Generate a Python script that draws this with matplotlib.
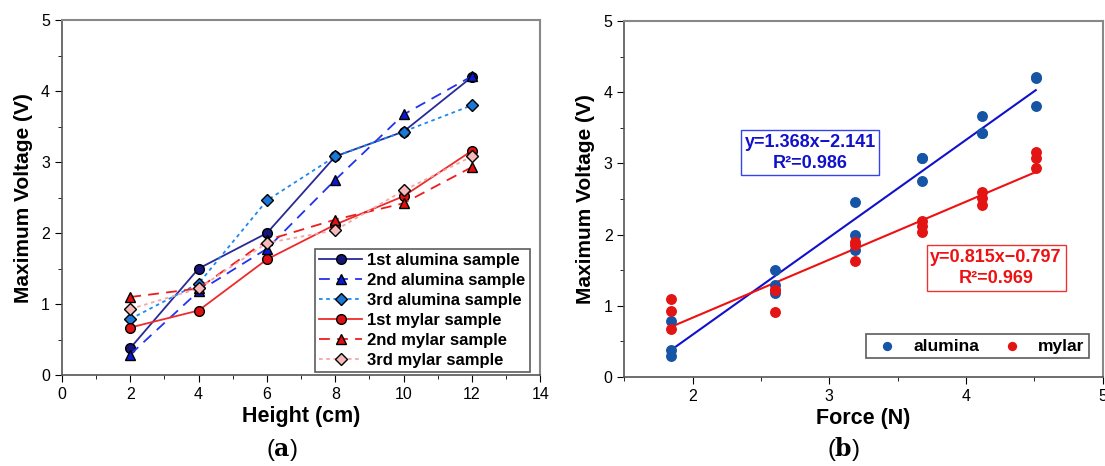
import matplotlib
matplotlib.use("Agg")
import matplotlib.pyplot as plt
import numpy as np
from matplotlib.ticker import MultipleLocator

plt.rcParams['font.family'] = ['Liberation Sans', 'DejaVu Sans']
plt.rcParams['mathtext.fontset'] = 'dejavuserif'

# ---------------- data ----------------
heights = [2, 4, 6, 8, 10, 12]
alumina1 = [0.38, 1.50, 2.00, 3.08, 3.43, 4.20]
alumina2 = [0.29, 1.18, 1.78, 2.75, 3.67, 4.21]
alumina3 = [0.79, 1.29, 2.46, 3.08, 3.43, 3.80]
mylar1 = [0.67, 0.91, 1.63, 2.12, 2.52, 3.16]
mylar2 = [1.10, 1.22, 1.90, 2.19, 2.42, 2.93]
mylar3 = [0.93, 1.22, 1.86, 2.04, 2.60, 3.08]

forces = [1.84, 2.60, 3.19, 3.68, 4.12, 4.51]
alumina_fit = (1.368, -2.141)
mylar_fit = (0.815, -0.797)
alumina_label = "y=1.368x\u22122.141\nR\u00b2=0.986"
mylar_label = "y=0.815x\u22120.797\nR\u00b2=0.969"

series_labels = ["1st alumina sample", "2nd alumina sample", "3rd alumina sample",
                 "1st mylar sample", "2nd mylar sample", "3rd mylar sample"]

fig = plt.figure(figsize=(11.05, 4.66), dpi=100)

# ---------------- panel (a) ----------------
ax1 = fig.add_axes([0.056, 0.195, 0.433, 0.762])
styles = [
    dict(color='#2a2a96', ls='-', marker='o', mfc='#15157a'),
    dict(color='#2233ee', ls=(0, (6, 4)), marker='^', mfc='#0a1ad0'),
    dict(color='#1e88f0', ls=(0, (2, 2)), marker='D', mfc='#1a78d8'),
    dict(color='#ee2b2b', ls='-', marker='o', mfc='#dd1111'),
    dict(color='#ee1c1c', ls=(0, (6, 4)), marker='^', mfc='#e01010'),
    dict(color='#f4a6a6', ls=(0, (2, 2)), marker='D', mfc='#f6b8b8'),
]
data = [alumina1, alumina2, alumina3, mylar1, mylar2, mylar3]
for vals, st, lab in zip(data, styles, series_labels):
    ms = {'o': 7, '^': 7.5, 'D': 6.5}[st['marker']]
    ax1.plot(heights, vals, color=st['color'], ls=st['ls'], lw=1.3,
             marker=st['marker'], mfc=st['mfc'], mec='black', mew=1.0,
             ms=ms, label=lab)
ax1.set_xlim(0, 14)
ax1.set_ylim(0, 5)
ax1.xaxis.set_major_locator(MultipleLocator(2))
ax1.xaxis.set_minor_locator(MultipleLocator(1))
ax1.yaxis.set_major_locator(MultipleLocator(1))
ax1.yaxis.set_minor_locator(MultipleLocator(0.5))
ax1.tick_params(which='both', direction='out', labelsize=11.5)
ax1.tick_params(which='major', length=5)
ax1.tick_params(which='minor', length=3)
for s in ['top', 'right']:
    ax1.spines[s].set_color('#888888')
    ax1.spines[s].set_linewidth(1.5)
for s in ['left', 'bottom']:
    ax1.spines[s].set_color('#555555')
    ax1.spines[s].set_linewidth(1.2)
ax1.set_xlabel("Height (cm)", fontsize=15.5, fontweight='bold', labelpad=3)
ax1.set_ylabel("Maximum Voltage (V)", fontsize=15, fontweight='bold', labelpad=6)
leg1 = ax1.legend(loc='lower right', bbox_to_anchor=(0.978, 0.008),
                  prop={'weight': 'bold', 'size': 12}, frameon=True, fancybox=False,
                  edgecolor='#333333', handlelength=2.6, handletextpad=0.3,
                  labelspacing=0.3, borderpad=0.25, borderaxespad=0.0)
leg1.get_frame().set_linewidth(1.2)

fig.text(0.255, 0.022, r"($\mathbf{a}$)", fontsize=17, ha='center', va='baseline')

# ---------------- panel (b) ----------------
ax2 = fig.add_axes([0.565, 0.191, 0.433, 0.764])
al_all = alumina1 + alumina2 + alumina3
my_all = mylar1 + mylar2 + mylar3
f_all = forces * 3
ax2.scatter(f_all, al_all, s=62, color='#1655a5', zorder=3, label='alumina', linewidths=0)
ax2.scatter(f_all, my_all, s=62, color='#e31414', zorder=3, label='mylar', linewidths=0)
xf = np.array([forces[0], forces[-1]])
ax2.plot(xf, alumina_fit[0] * xf + alumina_fit[1], color='#1111cc', lw=1.5, zorder=2)
ax2.plot(xf, mylar_fit[0] * xf + mylar_fit[1], color='#ee1111', lw=1.5, zorder=2)
ax2.set_xlim(1.5, 5)
ax2.set_ylim(0, 5)
ax2.xaxis.set_major_locator(MultipleLocator(1))
ax2.xaxis.set_minor_locator(MultipleLocator(0.5))
ax2.yaxis.set_major_locator(MultipleLocator(1))
ax2.yaxis.set_minor_locator(MultipleLocator(0.5))
ax2.tick_params(which='both', direction='out', labelsize=11.5)
ax2.tick_params(which='major', length=5)
ax2.tick_params(which='minor', length=3)
for s in ['top', 'right']:
    ax2.spines[s].set_color('#888888')
    ax2.spines[s].set_linewidth(1.5)
for s in ['left', 'bottom']:
    ax2.spines[s].set_color('#555555')
    ax2.spines[s].set_linewidth(1.2)
ax2.set_xlabel("Force (N)", fontsize=15.5, fontweight='bold', labelpad=3)
ax2.set_ylabel("Maximum Voltage (V)", fontsize=15, fontweight='bold', labelpad=6)

ax2.text(2.86, 3.15, alumina_label, color='#1111cc', fontsize=13, fontweight='bold',
         ha='center', va='center', linespacing=1.3,
         bbox=dict(boxstyle='square,pad=0.2', fc='white', ec='#3344ee', lw=1.0))
ax2.text(4.22, 1.53, mylar_label, color='#ee1111', fontsize=13, fontweight='bold',
         ha='center', va='center', linespacing=1.3,
         bbox=dict(boxstyle='square,pad=0.2', fc='white', ec='#ee3333', lw=1.0))

leg2 = ax2.legend(loc='lower right', bbox_to_anchor=(0.971, 0.053), ncol=2,
                  prop={'weight': 'bold', 'size': 12.5}, frameon=True, fancybox=False,
                  edgecolor='#333333', handletextpad=0.5, columnspacing=0.9,
                  borderpad=0.25, markerscale=0.85, borderaxespad=0.0)
leg2.get_frame().set_linewidth(1.2)

fig.text(0.763, 0.022, r"($\mathbf{b}$)", fontsize=17, ha='center', va='baseline')

fig.savefig("out.png", dpi=100)
